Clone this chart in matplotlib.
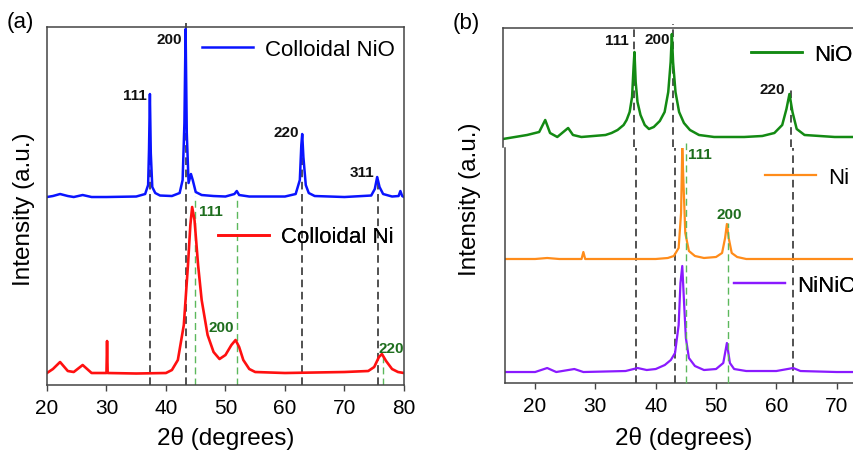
import numpy as np
import matplotlib
matplotlib.use("Agg")
import matplotlib.pyplot as plt

plt.rcParams['font.family'] = ['Liberation Sans', 'DejaVu Sans']

# ---- panel (a): colloidal samples, stacked in one axes ----
nio_a_x = [20, 21, 22.2, 23.5, 24.5, 26, 27.5, 30, 35, 36.5, 37.0, 37.15, 37.3, 37.45,
           37.7, 38.2, 39, 41, 42.3, 42.8, 43.1, 43.3, 43.5, 43.8, 44.2, 44.5, 45, 46,
           48, 50, 51.5, 51.9, 52.3, 54, 60, 61.8, 62.5, 62.75, 62.9, 63.1, 63.5, 64,
           65, 70, 74.5, 75.1, 75.5, 75.9, 76.5, 78, 79.1, 79.4, 79.7, 80]
nio_a_y = [188, 189, 191, 189, 188, 190, 188, 188, 188.5, 191, 200, 235, 291, 232,
           198, 192, 189.5, 189, 192, 205, 262, 356, 252, 202, 211, 205, 193, 190,
           189, 188.5, 191, 194, 190, 188.5, 188.5, 191, 205, 240, 251, 228, 200, 192,
           189, 188, 189.5, 196, 208, 198, 191, 188.5, 189, 194, 189, 188]

ni_a_x = [20, 21, 22.2, 23.5, 24.5, 26, 27.5, 30.0, 30.1, 30.2, 35, 40, 41, 42, 43,
          43.7, 44.1, 44.4, 44.8, 45.4, 46, 47, 48, 49, 50, 51, 51.7, 52.3, 53, 54,
          55, 60, 70, 74, 75, 75.8, 76.3, 77, 78, 79, 80]
ni_a_y = [12, 16, 23, 14, 13, 20, 12, 12, 44, 12, 11.5, 12, 15, 25, 60,
          120, 160, 178, 165, 120, 85, 50, 33, 26, 30, 40, 45, 38, 25, 16,
          13, 12, 13, 14, 18, 28, 31, 24, 16, 13, 12]

# reference lines (2theta, top of line)
nio_a_ref = [37.3, 43.3, 62.9, 75.6]
nio_a_ref_top = [291, 362, 251, 208]
ni_a_ref = [44.9, 51.9, 76.5]
ni_a_ref_top = [189, 189, 31]

nio_a_lbl = ["111", "200", "220", "311"]
nio_a_lbl_x = [36.8, 42.7, 62.35, 75.0]
nio_a_lbl_y = [290, 346, 253, 213]
ni_a_lbl = ["111", "200", "220"]
ni_a_lbl_x = [45.6, 47.1, 75.7]
ni_a_lbl_y = [174, 58, 37]

# ---- panel (b): NiO on top axes, Ni and NiNiO below ----
nio_b_x = [15, 17, 19, 21, 22.0, 22.8, 24, 25.8, 26.6, 28, 30, 32, 33, 34, 35, 35.5,
           36, 36.4, 36.65, 36.8, 37.0, 37.3, 37.8, 38.5, 39.2, 40, 41, 41.8, 42.4,
           42.8, 43.0, 43.2, 43.6, 44.2, 45, 46, 47.5, 50, 55, 58, 60, 61.3, 62.0,
           62.5, 63.0, 63.7, 65, 70, 75, 80]
nio_b_y = [8, 10, 12, 15, 27, 14, 10, 19, 12, 10, 11, 12, 14, 17, 22, 27,
           35, 50, 80, 95, 65, 45, 32, 22, 18, 20, 26, 35, 55,
           85, 113, 85, 55, 35, 24, 17, 12, 10, 10, 11, 14, 22, 38,
           53, 35, 18, 12, 10, 10, 10]

ni_b_x = [15, 20, 22, 24, 27.7, 28.0, 28.3, 35, 40, 42, 43, 43.8, 44.2, 44.4, 44.6,
          44.9, 45.5, 46.5, 48, 50, 51, 51.5, 51.8, 52.1, 52.6, 53.5, 55, 60, 70, 80]
ni_b_y = [124, 124, 125, 124, 124, 131, 124, 124, 124, 125, 127, 135, 170, 235, 200,
          150, 132, 127, 125, 126, 130, 145, 159, 145, 130, 126, 124, 124, 124, 124]

ninio_b_x = [15, 20, 22, 23.5, 26.5, 28, 35, 37, 38.5, 40, 41.5, 42.5, 43.2, 43.8,
             44.1, 44.4, 44.7, 45.0, 45.5, 46.5, 48, 50, 51.2, 51.8, 52.3, 53, 55,
             60, 62.8, 64, 70, 80]
ninio_b_y = [11, 11, 15, 11, 14, 11, 12, 15, 13, 14, 18, 23, 30, 58,
             100, 117, 80, 45, 25, 17, 13, 14, 20, 40, 20, 14, 12,
             12, 15, 12, 11, 11]

nio_b_ref = [36.7, 43.2, 62.8]
nio_b_ref_top = [119, 123, 61]
ni_b_ref = [45.0, 52.0]
ni_b_ref_top = [240, 160]

nio_b_lbl = ["111", "200", "220"]
nio_b_lbl_x = [35.8, 42.7, 61.8]
nio_b_lbl_y = [107, 108, 58]
ni_b_lbl = ["111", "200"]
ni_b_lbl_x = [45.4, 50.0]
ni_b_lbl_y = [229, 169]

blue = "#0a14ff"
red = "#ff1010"
green = "#138a13"
orange = "#ff8c1a"
purple = "#8a1aff"
lbl_green = "#1e6e1e"
dash_green = "#5cb85c"
dash_black = "#222222"

fig = plt.figure(figsize=(8.54, 4.52), dpi=100)

ax_a = fig.add_axes([0.055, 0.146, 0.418, 0.792])
ax_b1 = fig.add_axes([0.589, 0.6726, 0.459, 0.2632])
ax_b2 = fig.add_axes([0.5913, 0.1504, 0.459, 0.520])

# panel a
la1, = ax_a.plot(nio_a_x, nio_a_y, color=blue, lw=1.8, label="Colloidal NiO")
la2, = ax_a.plot(ni_a_x, ni_a_y, color=red, lw=1.9, label="Colloidal Ni")
ax_a.vlines(nio_a_ref, 0, nio_a_ref_top, colors=dash_black, linestyles=(0, (5, 3)),
            lw=1.1, clip_on=False, zorder=1)
ax_a.vlines(ni_a_ref, 0, ni_a_ref_top, colors=dash_green, linestyles=(0, (5, 3)),
            lw=1.0, zorder=1)
for t, x, y in zip(nio_a_lbl, nio_a_lbl_x, nio_a_lbl_y):
    ax_a.text(x, y, t, ha="right", va="center", fontsize=11, fontweight="bold", color="#111111")
for t, x, y in zip(ni_a_lbl, ni_a_lbl_x, ni_a_lbl_y):
    ax_a.text(x, y, t, ha="left", va="center", fontsize=11, fontweight="bold", color=lbl_green)
ax_a.set_xlim(20, 80)
ax_a.set_ylim(0, 358)
ax_a.set_xticks([20, 30, 40, 50, 60, 70, 80])
ax_a.set_yticks([])

# panel b top
lb1, = ax_b1.plot(nio_b_x, nio_b_y, color=green, lw=1.8, label="NiO")
ax_b1.vlines(nio_b_ref, 0, nio_b_ref_top, colors=dash_black, linestyles=(0, (5, 3)),
             lw=1.1, clip_on=False, zorder=1)
for t, x, y in zip(nio_b_lbl, nio_b_lbl_x, nio_b_lbl_y):
    ax_b1.text(x, y, t, ha="right", va="center", fontsize=11, fontweight="bold", color="#111111")
ax_b1.set_xlim(15, 80)
ax_b1.set_ylim(0, 119)
ax_b1.set_xticks([])
ax_b1.set_yticks([])
ax_b1.spines["bottom"].set_visible(False)

# panel b bottom
lb2, = ax_b2.plot(ni_b_x, ni_b_y, color=orange, lw=1.6, label="Ni")
lb3, = ax_b2.plot(ninio_b_x, ninio_b_y, color=purple, lw=1.6, label="NiNiO")
ax_b2.vlines(nio_b_ref, 0, 235, colors=dash_black, linestyles=(0, (5, 3)), lw=1.1, zorder=1)
ax_b2.vlines(ni_b_ref, 0, ni_b_ref_top, colors=dash_green, linestyles=(0, (5, 3)),
             lw=1.0, clip_on=False, zorder=3)
for t, x, y in zip(ni_b_lbl, ni_b_lbl_x, ni_b_lbl_y):
    ax_b2.text(x, y, t, ha="left", va="center", fontsize=11, fontweight="bold", color=lbl_green)
ax_b2.set_xlim(15, 80)
ax_b2.set_ylim(0, 235)
ax_b2.set_xticks([20, 30, 40, 50, 60, 70, 80])
ax_b2.set_yticks([])
ax_b2.spines["top"].set_visible(False)

for ax in (ax_a, ax_b1, ax_b2):
    for s in ax.spines.values():
        s.set_color("#444444")
        s.set_linewidth(1.1)
    ax.tick_params(axis="x", direction="out", length=4, width=1, color="#444444",
                   labelsize=15, pad=5)

# legends: one per curve, placed in figure coordinates
def one_legend(ax, line, x, y):
    leg = ax.legend(handles=[line], loc="center left", bbox_to_anchor=(x, y),
                    bbox_transform=fig.transFigure, frameon=False, fontsize=16,
                    handlelength=2.3, handletextpad=0.55, borderpad=0, borderaxespad=0)
    ax.add_artist(leg)

one_legend(ax_a, la1, 0.2365, 0.889)
one_legend(ax_a, la2, 0.2553, 0.4735)
one_legend(ax_b1, lb1, 0.8794, 0.878)
one_legend(ax_b2, lb2, 0.8958, 0.606)
one_legend(ax_b2, lb3, 0.8595, 0.367)

fig.text(0.0281, 0.5376, "Intensity (a.u.)", rotation=90, ha="center", va="center", fontsize=17.5)
fig.text(0.5504, 0.5597, "Intensity (a.u.)", rotation=90, ha="center", va="center", fontsize=17.5)
fig.text(0.2646, 0.0288, "2θ (degrees)", ha="center", va="center", fontsize=17.5)
fig.text(0.801, 0.0288, "2θ (degrees)", ha="center", va="center", fontsize=17.5)
fig.text(0.0234, 0.951, "(a)", ha="center", va="center", fontsize=16)
fig.text(0.5457, 0.949, "(b)", ha="center", va="center", fontsize=16)

fig.savefig("out.png", dpi=100)
